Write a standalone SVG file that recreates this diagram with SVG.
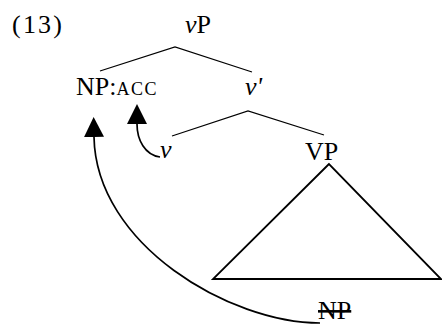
<svg xmlns="http://www.w3.org/2000/svg" width="442" height="324" viewBox="0 0 442 324">
<style>
text { font-family: "Liberation Serif", "Times New Roman", serif; font-size: 26px; fill: #000; }
.it { font-style: italic; }
.sc { font-size: 18px; }
.tree { stroke: #000; stroke-width: 1.2; fill: none; }
.tri { stroke: #000; stroke-width: 1.8; fill: none; stroke-linejoin: miter; }
.mv { stroke: #000; stroke-width: 1.7; fill: none; }
</style>
<defs>
<marker id="ah" viewBox="0 0 20 20" refX="0" refY="10" markerWidth="20" markerHeight="20" markerUnits="userSpaceOnUse" orient="auto">
<path d="M0,0 L20,10 L0,20 z" fill="#000"/>
</marker>
</defs>
<text x="12" y="33" textLength="50">(13)</text>
<g id="vP"><text x="185" y="33"><tspan class="it">v</tspan>P</text></g>
<g id="NPacc"><text x="76" y="95">NP:<tspan class="sc" textLength="40">ACC</tspan></text></g>
<g id="vbar"><text x="245" y="95" class="it">v'</text></g>
<g id="v"><text x="160" y="158" class="it">v</text></g>
<g id="VP"><text x="305" y="160">VP</text>
<path class="tri" d="M329,164 L213,279 L441,279 Z"/></g>
<g id="NPtrace"><text x="318" y="319" text-decoration="line-through">NP</text></g>
<g id="connectors">
<path class="tree" d="M100,71 L175,47 L252,72"/>
<path class="tree" d="M172,136 L248,111 L324,135"/>
<path class="mv" d="M320,323 C230,323 96,245 94,137" marker-end="url(#ah)"/>
<path class="mv" d="M160,157 C145,155 137,140 137,124" marker-end="url(#ah)"/>
</g>
</svg>
